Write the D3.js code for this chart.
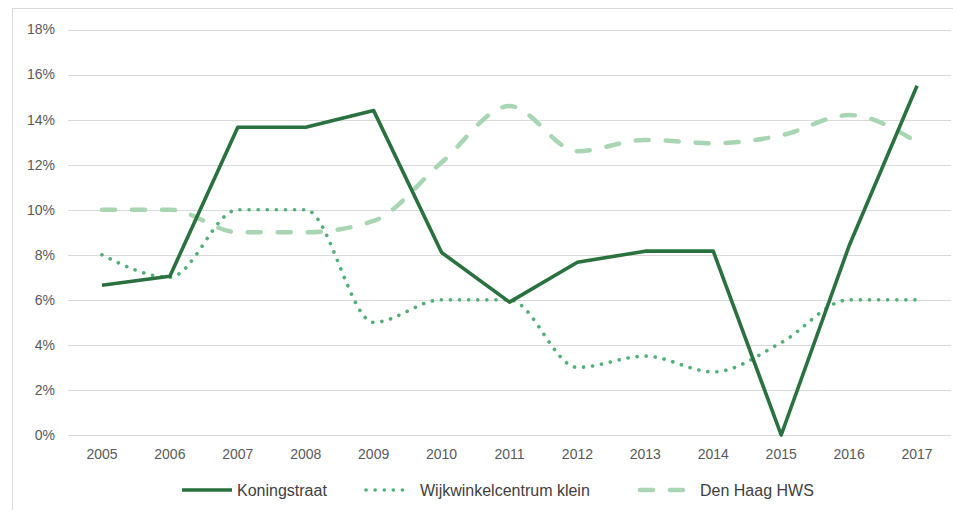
<!DOCTYPE html>
<html>
<head>
<meta charset="utf-8">
<script src="https://cdn.jsdelivr.net/npm/d3@7"></script>
<style>
  body { margin: 0; background: #fff; }
  svg { display: block; font-family: "Liberation Sans", Arial, sans-serif; }
</style>
</head>
<body>
<svg id="drawing_region"></svg>
<script>
// data (percent)
const years = [2005, 2006, 2007, 2008, 2009, 2010, 2011, 2012, 2013, 2014, 2015, 2016, 2017];
const koningstraat = [6.65, 7.05, 13.66, 13.66, 14.4, 8.1, 5.9, 7.67, 8.16, 8.16, 0, 8.4, 15.5];
const wijkwinkel = [8, 7, 10, 10, 5, 6, 6, 3, 3.5, 2.8, 4.1, 6, 6];
const denHaag = [10, 10, 9, 9, 9.5, 12.1, 14.6, 12.6, 13.1, 12.95, 13.3, 14.2, 13];
const yTicks = [0, 2, 4, 6, 8, 10, 12, 14, 16, 18];

const series = [
    { name: 'Koningstraat', values: koningstraat, color: '#2a7140', width: 3.6, dash: null, cap: 'butt', curve: d3.curveLinear },
    { name: 'Wijkwinkelcentrum klein', values: wijkwinkel, color: '#4fb077', width: 3.6, dash: '0.1 9', cap: 'round', curve: d3.curveMonotoneX },
    { name: 'Den Haag HWS', values: denHaag, color: '#a8d6b2', width: 4.5, dash: '13 17', cap: 'round', curve: d3.curveMonotoneX }
];

const config = {
    width: 953,
    height: 510,
    left: 68, right: 951, top: 29.5, bottom: 435
};

const svg = d3.select('#drawing_region')
    .attr('width', config.width)
    .attr('height', config.height);

// outer frame
svg.append('rect')
    .attr('x', 12.5).attr('y', 8.5)
    .attr('width', 1000).attr('height', 600)
    .attr('fill', 'none')
    .attr('stroke', '#d9d9d9')
    .attr('stroke-width', 1);

const xscale = d3.scalePoint()
    .domain(years)
    .range([config.left, config.right])
    .padding(0.5);

const yscale = d3.scaleLinear()
    .domain([0, 18])
    .range([config.bottom, config.top]);

// gridlines
svg.append('g').selectAll('line')
    .data(yTicks).enter()
    .append('line')
    .attr('x1', config.left).attr('x2', config.right)
    .attr('y1', d => Math.round(yscale(d)) + 0.5)
    .attr('y2', d => Math.round(yscale(d)) + 0.5)
    .attr('stroke', '#d9d9d9')
    .attr('stroke-width', 1);

// y labels
svg.append('g').selectAll('text')
    .data(yTicks).enter()
    .append('text')
    .attr('x', 55)
    .attr('y', d => yscale(d))
    .attr('dy', '0.35em')
    .attr('text-anchor', 'end')
    .attr('font-size', 14)
    .attr('fill', '#595959')
    .text(d => d + '%');

// x labels
svg.append('g').selectAll('text')
    .data(years).enter()
    .append('text')
    .attr('x', d => xscale(d))
    .attr('y', 454)
    .attr('dy', '0.35em')
    .attr('text-anchor', 'middle')
    .attr('font-size', 14)
    .attr('fill', '#595959')
    .text(d => d);

// lines
series.slice().reverse().forEach(s => {
    const line = d3.line()
        .x((d, i) => xscale(years[i]))
        .y(d => yscale(d))
        .curve(s.curve);
    svg.append('path')
        .datum(s.values)
        .attr('d', line)
        .attr('fill', 'none')
        .attr('stroke', s.color)
        .attr('stroke-width', s.width)
        .attr('stroke-linecap', s.cap)
        .attr('stroke-linejoin', 'round')
        .attr('stroke-dasharray', s.dash);
});

// legend
const legendPos = [{ x1: 182, x2: 232, tx: 237 }, { x1: 366, x2: 411, tx: 420 }, { x1: 640, x2: 684, tx: 700 }];
const legend = svg.append('g');
series.forEach((s, i) => {
    const p = legendPos[i];
    legend.append('line')
        .attr('x1', p.x1).attr('x2', p.x2)
        .attr('y1', 490).attr('y2', 490)
        .attr('stroke', s.color)
        .attr('stroke-width', s.width)
        .attr('stroke-linecap', s.cap)
        .attr('stroke-dasharray', s.dash);
    legend.append('text')
        .attr('x', p.tx).attr('y', 490)
        .attr('dy', '0.35em')
        .attr('font-size', 16)
        .attr('fill', '#404040')
        .text(s.name);
});
</script>
</body>
</html>
